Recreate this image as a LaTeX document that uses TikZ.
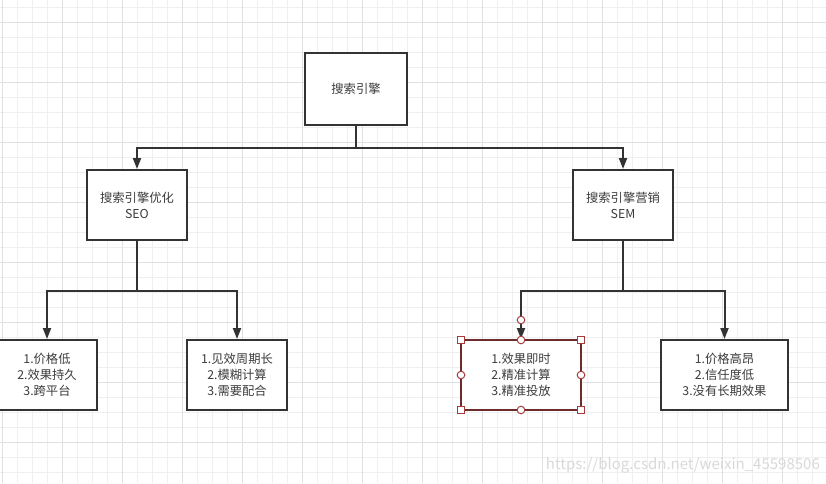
\documentclass[tikz,border=0pt]{standalone}
\usepackage{fontspec}
\setmainfont{Noto Sans CJK SC}
\usepackage{tikz}
\usetikzlibrary{arrows.meta}
\definecolor{gridminor}{HTML}{EFEFEF}
\definecolor{gridmajor}{HTML}{E0E0E0}
\definecolor{ink}{HTML}{333333}
\definecolor{txt}{HTML}{3C3C3C}
\definecolor{selred}{HTML}{6E2B2B}
\definecolor{handle}{HTML}{A83A3A}
\definecolor{mark}{HTML}{D9D9D9}
\newcommand{\sqhandle}[2]{\filldraw[fill=white, draw=handle, line width=1pt] ( #1 -3.5 , #2 -3.5 ) rectangle ( #1 +3.5 , #2 +3.5 );}
\newcommand{\cihandle}[2]{\filldraw[fill=white, draw=handle, line width=1pt] ( #1 , #2 ) circle (3.8pt);}
\tikzset{
  box/.style={draw=ink, line width=2pt, fill=white, text=txt, align=center,
    font=\fontsize{12.3}{16}\selectfont, inner sep=0pt},
  conn/.style={draw=ink, line width=2pt, -{Triangle[length=11pt, width=8pt]}},
}
\begin{document}
\begin{tikzpicture}[x=1pt, y=-1pt]
        \useasboundingbox (0,0) rectangle (826,483);
        \fill[white] (0,0) rectangle (826,483);
        % grid
        \foreach \gx in {2.5,17.5,...,826} {\draw[gridminor, line width=0.8pt] (\gx,0) -- (\gx,483);}
        \foreach \gy in {7.5,22.5,...,483} {\draw[gridminor, line width=0.8pt] (0,\gy) -- (826,\gy);}
        \foreach \gx in {2.5,62.5,...,826} {\draw[gridmajor, line width=0.8pt] (\gx,0) -- (\gx,483);}
        \foreach \gy in {22.5,82.5,...,483} {\draw[gridmajor, line width=0.8pt] (0,\gy) -- (826,\gy);}
        % level 1
        \node[box, minimum width=102pt, minimum height=72pt] (engine) at (356,89) {搜索引擎};
        % level 2
        \node[box, minimum width=100pt, minimum height=70pt] (seo) at (137,205) {搜索引擎优化\\SEO};
        \node[box, minimum width=100pt, minimum height=70pt] (sem) at (623,205) {搜索引擎营销\\SEM};
        % level 3
        \node[box, minimum width=100pt, minimum height=70pt] (seopro) at (47,375) {1.价格低\\2.效果持久\\3.跨平台};
        \node[box, minimum width=100pt, minimum height=70pt] (seocon) at (237,375) {1.见效周期长\\2.模糊计算\\3.需要配合};
        \node[box, draw=selred, minimum width=120pt, minimum height=70pt] (sempro) at (521,375) {1.效果即时\\2.精准计算\\3.精准投放};
        \node[box, minimum width=127pt, minimum height=70pt] (semcon) at (724.5,375) {1.价格高昂\\2.信任度低\\3.没有长期效果};
        % connectors
        \draw[conn] (engine.south) -- ++(0,22) -| (seo.north);
        \draw[conn] (engine.south) -- ++(0,22) -| (sem.north);
        \draw[conn] (seo.south) -- ++(0,50) -| (seopro.north);
        \draw[conn] (seo.south) -- ++(0,50) -| (seocon.north);
        \draw[conn] (sem.south) -- ++(0,50) -| (sempro.north);
        \draw[conn] (sem.south) -- ++(0,50) -| (semcon.north);
        % selection handles
        \sqhandle{461}{340} \sqhandle{581}{340}
        \sqhandle{461}{410} \sqhandle{581}{410}
        \cihandle{521}{340} \cihandle{521}{410}
        \cihandle{461}{375} \cihandle{581}{375}
        \cihandle{521}{320}
        % watermark
        \node[anchor=east, text=mark, font=\fontsize{15}{17}\selectfont, inner sep=0pt] (wm) at (820,465) {https://blog.csdn.net/weixin\_45598506};
\end{tikzpicture}
\end{document}
